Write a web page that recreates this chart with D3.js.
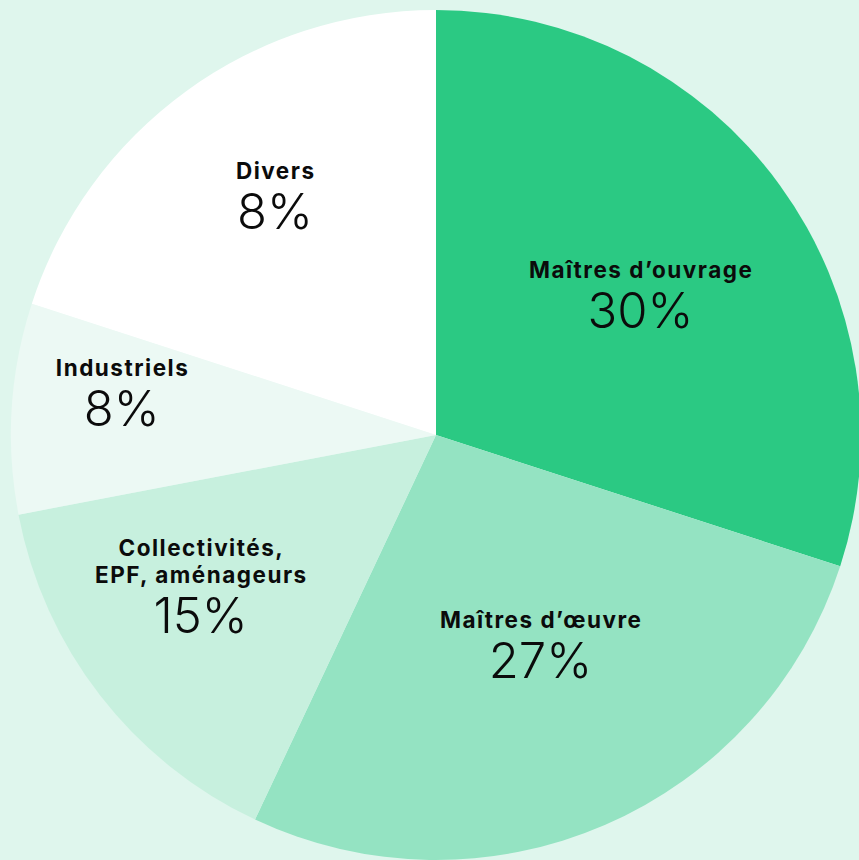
<!DOCTYPE html>
<html lang="fr">
<head>
<meta charset="utf-8">
<title>Répartition</title>
<script src="https://d3js.org/d3.v7.min.js"></script>
<style>
  html, body { margin: 0; padding: 0; background: #dff6ed; }
  #chart { width: 859px; height: 860px; overflow: hidden; }
  .lbl { font-family: Inter, "Noto Sans", sans-serif; font-weight: 700; font-size: 22.5px; letter-spacing: 1.5px; fill: #0b0b0b; }
  .pct { font-family: Inter, "Noto Sans", sans-serif; font-weight: 300; font-size: 49px; fill: #0b0b0b; }
</style>
</head>
<body>
<div id="chart"></div>
<script>
// slice data, clockwise from 12 o'clock
var categories = ["Maîtres d’ouvrage", "Maîtres d’œuvre", "Collectivités,|EPF, aménageurs", "Industriels", "Divers"]
var values = [30, 27, 15, 8, 20]          // slice sizes as drawn
var pctLabels = ["30%", "27%", "15%", "8%", "8%"]   // printed labels
var colors = ["#2bc983", "#94e3c2", "#c7f0de", "#ecf9f4", "#ffffff"]

var w = 859, h = 860
var cx = 436, cy = 435, R = 425

// label placement: radius + small angle nudge (deg) per slice
var labelPos = [[248, 1.5], [235, -3], [280, 5], [317, 4], [288, 2]]

var svg = d3.select("#chart").append("svg")
  .attr("width", w)
  .attr("height", h)

var g = svg.append("g").attr("transform", "translate(" + cx + "," + cy + ")")

var pie = d3.pie().sort(null).value(function(d){ return d })
var arcs = pie(values)
var arc = d3.arc().innerRadius(0).outerRadius(R)

g.selectAll("path.slice")
  .data(arcs)
  .enter()
  .append("path")
  .attr("class", "slice")
  .attr("d", arc)
  .attr("fill", function(d, i){ return colors[i] })

var labels = g.selectAll("g.label")
  .data(arcs)
  .enter()
  .append("g")
  .attr("class", "label")
  .attr("transform", function(d, i){
    var a = (d.startAngle + d.endAngle) / 2 + labelPos[i][1] * Math.PI / 180
    var r = labelPos[i][0]
    return "translate(" + (r * Math.sin(a)) + "," + (-r * Math.cos(a)) + ")"
  })

labels.each(function(d, i){
  var sel = d3.select(this)
  var lines = categories[i].split("|")
  // block: lines of 27px, then percentage 50px below the last line; centred vertically
  var blockH = 16 + (lines.length - 1) * 27 + 50
  var top = -blockH / 2
  lines.forEach(function(t, k){
    sel.append("text")
      .attr("class", "lbl")
      .attr("text-anchor", "middle")
      .attr("x", 0.75)
      .attr("y", top + 16 + k * 27)
      .text(t)
  })
  sel.append("text")
    .attr("class", "pct")
    .attr("text-anchor", "middle")
    .attr("y", top + 16 + (lines.length - 1) * 27 + 50)
    .text(pctLabels[i])
})
</script>
</body>
</html>
